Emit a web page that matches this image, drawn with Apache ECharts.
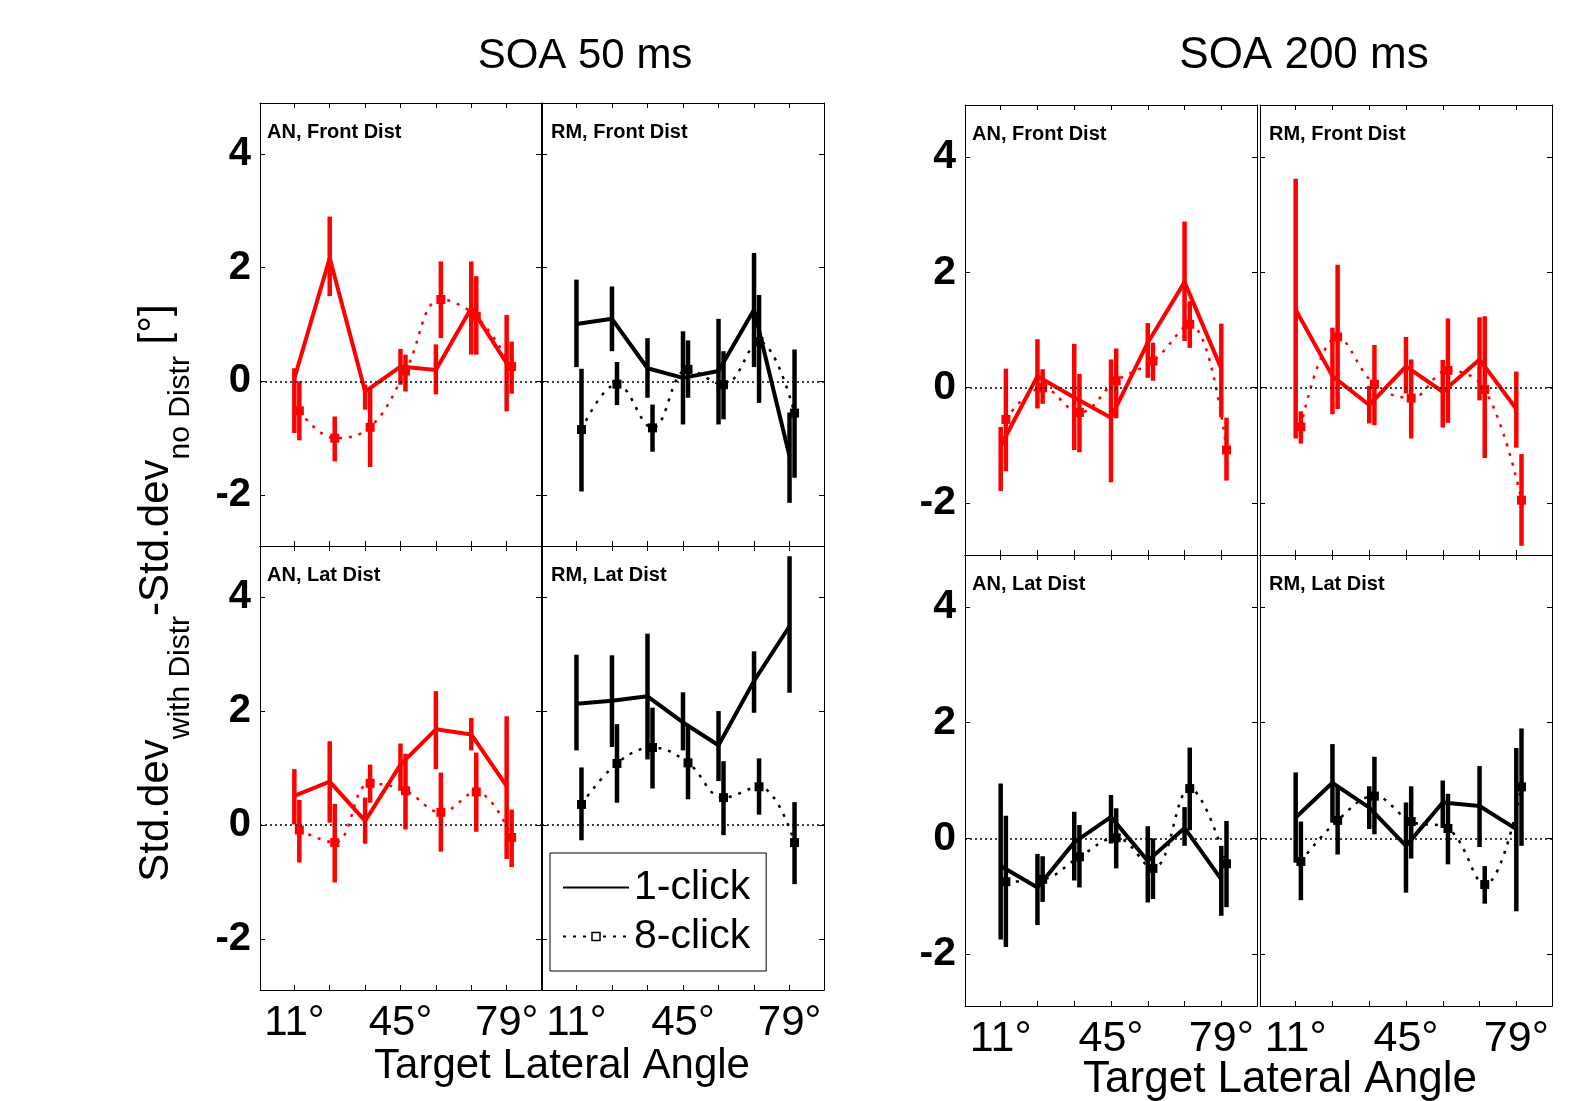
<!DOCTYPE html>
<html><head><meta charset="utf-8">
<script src="https://cdn.jsdelivr.net/npm/echarts@6/dist/echarts.min.js"></script>
<style>html,body{margin:0;padding:0;background:#fff}#c{width:1582px;height:1101px}</style>
</head><body><div id="c"></div>
<script>
// ---------- axis data ----------
const angles = [11, 22.33, 33.67, 45, 56.33, 67.67, 79];
const xTickLabels = [11, 45, 79];
const yTicks = [-2, 0, 2, 4];
const yMin = -2.9, yMax = 4.9;
const xMin = 0, xMax = 90;

// ---------- SOA 50 ms, AN, Front Dist ----------
const s50_AN_front_c1    = [0.05, 2.17, -0.18, 0.26, 0.20, 1.29, 0.32];
const s50_AN_front_c1_lo = [-0.91, 1.50, -0.50, -0.06, -0.23, 0.47, -0.53];
const s50_AN_front_c1_hi = [0.23, 2.90, -0.06, 0.57, 0.65, 2.11, 1.17];
const s50_AN_front_c8    = [-0.52, -1.00, -0.81, 0.18, 1.44, 1.14, 0.26];
const s50_AN_front_c8_lo = [-1.04, -1.41, -1.51, -0.18, 0.76, 0.47, -0.22];
const s50_AN_front_c8_hi = [0.00, -0.62, -0.12, 0.47, 2.11, 1.85, 0.70];
// ---------- SOA 50 ms, RM, Front Dist ----------
const s50_RM_front_c1    = [1.01, 1.10, 0.23, 0.06, 0.18, 1.26, -1.32];
const s50_RM_front_c1_lo = [0.25, 0.53, -0.29, -0.76, -0.76, 0.25, -2.14];
const s50_RM_front_c1_hi = [1.79, 1.67, 0.76, 0.88, 1.10, 2.26, -0.55];
const s50_RM_front_c8    = [-0.85, -0.05, -0.82, 0.21, -0.06, 0.70, -0.56];
const s50_RM_front_c8_lo = [-1.94, -0.42, -1.24, -0.29, -0.67, -0.38, -1.70];
const s50_RM_front_c8_hi = [0.22, 0.34, -0.41, 0.72, 0.53, 1.52, 0.56];
// ---------- SOA 50 ms, AN, Lat Dist ----------
const s50_AN_lat_c1    = [0.51, 0.76, 0.07, 1.06, 1.68, 1.59, 0.68];
const s50_AN_lat_c1_lo = [0.01, 0.04, -0.33, 0.60, 0.98, 1.31, -0.60];
const s50_AN_lat_c1_hi = [0.98, 1.47, 0.48, 1.43, 2.35, 1.88, 1.91];
const s50_AN_lat_c8    = [-0.09, -0.31, 0.73, 0.60, 0.22, 0.58, -0.22];
const s50_AN_lat_c8_lo = [-0.66, -1.01, 0.39, -0.08, -0.47, -0.12, -0.74];
const s50_AN_lat_c8_hi = [0.44, 0.37, 1.06, 1.25, 0.92, 1.27, 0.27];
// ---------- SOA 50 ms, RM, Lat Dist ----------
const s50_RM_lat_c1    = [2.13, 2.18, 2.26, 1.80, 1.40, 2.53, 3.49];
const s50_RM_lat_c1_lo = [1.31, 1.37, 1.15, 1.31, 0.77, 1.97, 2.32];
const s50_RM_lat_c1_hi = [2.99, 2.98, 3.36, 2.33, 2.00, 3.05, 4.72];
const s50_RM_lat_c8    = [0.36, 1.08, 1.36, 1.09, 0.48, 0.67, -0.31];
const s50_RM_lat_c8_lo = [-0.27, 0.39, 0.64, 0.45, -0.18, 0.18, -1.04];
const s50_RM_lat_c8_hi = [1.01, 1.77, 2.06, 1.74, 1.12, 1.17, 0.40];
// ---------- SOA 200 ms, AN, Front Dist ----------
const s200_AN_front_c1    = [-1.01, 0.20, -0.17, -0.52, 0.78, 1.83, 0.33];
const s200_AN_front_c1_lo = [-1.79, -0.36, -1.08, -1.64, 0.17, 0.81, -0.51];
const s200_AN_front_c1_hi = [-0.68, 0.84, 0.76, 0.49, 1.12, 2.88, 1.11];
const s200_AN_front_c8    = [-0.55, 0.00, -0.43, 0.12, 0.46, 1.10, -1.08];
const s200_AN_front_c8_lo = [-1.45, -0.28, -1.12, -0.53, 0.12, 0.69, -1.61];
const s200_AN_front_c8_hi = [0.33, 0.32, 0.24, 0.68, 0.78, 1.50, -0.52];
// ---------- SOA 200 ms, RM, Front Dist ----------
const s200_RM_front_c1    = [1.35, 0.20, -0.30, 0.37, -0.07, 0.49, -0.37];
const s200_RM_front_c1_lo = [-0.88, -0.46, -0.62, -0.10, -0.69, -0.22, -1.04];
const s200_RM_front_c1_hi = [3.62, 1.04, 0.03, 0.88, 0.48, 1.22, 0.28];
const s200_RM_front_c8    = [-0.68, 0.88, 0.06, -0.18, 0.30, -0.03, -1.95];
const s200_RM_front_c8_lo = [-0.97, -0.37, -0.65, -0.88, -0.61, -1.22, -2.74];
const s200_RM_front_c8_hi = [-0.41, 2.13, 0.74, 0.49, 1.20, 1.24, -1.15];
// ---------- SOA 200 ms, AN, Lat Dist ----------
const s200_AN_lat_c1    = [-0.48, -0.85, -0.07, 0.37, -0.39, 0.18, -0.71];
const s200_AN_lat_c1_lo = [-1.75, -1.50, -0.73, -0.09, -1.11, -0.13, -1.34];
const s200_AN_lat_c1_hi = [0.95, -0.27, 0.46, 0.75, 0.21, 0.54, -0.13];
const s200_AN_lat_c8    = [-0.75, -0.71, -0.32, 0.01, -0.52, 0.86, -0.44];
const s200_AN_lat_c8_lo = [-1.88, -1.10, -0.85, -0.52, -1.05, 0.14, -1.19];
const s200_AN_lat_c8_hi = [0.39, -0.31, 0.23, 0.52, 0.00, 1.57, 0.30];
// ---------- SOA 200 ms, RM, Lat Dist ----------
const s200_RM_lat_c1    = [0.36, 0.96, 0.53, -0.13, 0.62, 0.56, 0.16];
const s200_RM_lat_c1_lo = [-0.42, 0.27, 0.16, -0.94, 0.18, -0.15, -1.26];
const s200_RM_lat_c1_hi = [1.14, 1.63, 0.90, 0.62, 1.00, 1.25, 1.56];
const s200_RM_lat_c8    = [-0.40, 0.31, 0.73, 0.29, 0.17, -0.80, 0.89];
const s200_RM_lat_c8_lo = [-1.07, -0.28, 0.07, -0.35, -0.45, -1.13, -0.13];
const s200_RM_lat_c8_hi = [0.29, 0.90, 1.41, 0.90, 0.77, -0.48, 1.90];

const panelLabels = ['AN, Front Dist','RM, Front Dist','AN, Lat Dist','RM, Lat Dist',
                     'AN, Front Dist','RM, Front Dist','AN, Lat Dist','RM, Lat Dist'];
const panelData = [
  [s50_AN_front_c1, s50_AN_front_c1_lo, s50_AN_front_c1_hi, s50_AN_front_c8, s50_AN_front_c8_lo, s50_AN_front_c8_hi],
  [s50_RM_front_c1, s50_RM_front_c1_lo, s50_RM_front_c1_hi, s50_RM_front_c8, s50_RM_front_c8_lo, s50_RM_front_c8_hi],
  [s50_AN_lat_c1, s50_AN_lat_c1_lo, s50_AN_lat_c1_hi, s50_AN_lat_c8, s50_AN_lat_c8_lo, s50_AN_lat_c8_hi],
  [s50_RM_lat_c1, s50_RM_lat_c1_lo, s50_RM_lat_c1_hi, s50_RM_lat_c8, s50_RM_lat_c8_lo, s50_RM_lat_c8_hi],
  [s200_AN_front_c1, s200_AN_front_c1_lo, s200_AN_front_c1_hi, s200_AN_front_c8, s200_AN_front_c8_lo, s200_AN_front_c8_hi],
  [s200_RM_front_c1, s200_RM_front_c1_lo, s200_RM_front_c1_hi, s200_RM_front_c8, s200_RM_front_c8_lo, s200_RM_front_c8_hi],
  [s200_AN_lat_c1, s200_AN_lat_c1_lo, s200_AN_lat_c1_hi, s200_AN_lat_c8, s200_AN_lat_c8_lo, s200_AN_lat_c8_hi],
  [s200_RM_lat_c1, s200_RM_lat_c1_lo, s200_RM_lat_c1_hi, s200_RM_lat_c8, s200_RM_lat_c8_lo, s200_RM_lat_c8_hi]
];

// ---------- layout & styles ----------
const F = '"Liberation Sans", Arial, Helvetica, sans-serif';
const RED = '#ff0000', BLACK = '#000000';
const panelColors = [RED, BLACK, RED, BLACK, RED, RED, BLACK, BLACK];
const gridBoxes = [
  {left:260, top:103, width:281, height:443},
  {left:542, top:103, width:282, height:443},
  {left:260, top:546, width:281, height:444},
  {left:542, top:546, width:282, height:444},
  {left:965, top:105, width:292, height:450},
  {left:1260, top:105, width:292, height:450},
  {left:965, top:555, width:292, height:451},
  {left:1260, top:555, width:292, height:451}
];
const showY = [true,false,true,false,true,false,true,false];
const showX = [false,false,true,true,false,false,true,true];
const labelDx = [7,9,7,9,7,9,7,9];
const tickFont = [42,42,42,42,43,43,43,43];
const OFF8 = 1.6; // horizontal dodge of the 8-click series (degrees)

function errRender(params, api) {
  const x = api.value(0), lo = api.value(1), hi = api.value(2);
  const p1 = api.coord([x, lo]), p2 = api.coord([x, hi]);
  return {type:'line', shape:{x1:p1[0], y1:p1[1], x2:p2[0], y2:p2[1]},
          style:{stroke: api.visual('color'), lineWidth: 4.5, lineCap:'butt'}};
}

const grid = [], xAxis = [], yAxis = [], series = [], graphic = [];
gridBoxes.forEach((g, i) => {
  grid.push(Object.assign({outerBoundsMode:'none', containLabel:false, show:false}, g));
  const axLine = {show:true, onZero:false, lineStyle:{color:'#000', width:1}};
  const tickX = {show:true, inside:true, length:5, customValues: angles, lineStyle:{color:'#000', width:1}};
  const tickY = {show:true, inside:true, length:5, customValues: yTicks, lineStyle:{color:'#000', width:1}};
  xAxis.push({type:'value', gridIndex:i, position:'bottom', min:xMin, max:xMax,
    axisLine:axLine, axisTick:tickX, splitLine:{show:false},
    axisLabel:{show:showX[i], customValues:xTickLabels, formatter:v => v + '°',
      color:'#000', fontSize:tickFont[i], fontFamily:F, margin:12}});
  xAxis.push({type:'value', gridIndex:i, position:'top', min:xMin, max:xMax,
    axisLine:axLine, axisTick:tickX, splitLine:{show:false}, axisLabel:{show:false}});
  yAxis.push({type:'value', gridIndex:i, position:'left', min:yMin, max:yMax,
    axisLine:axLine, axisTick:tickY, splitLine:{show:false},
    axisLabel:{show:showY[i], customValues:yTicks, formatter:v => String(v),
      color:'#000', fontSize:tickFont[i] - 2, fontWeight:'bold', fontFamily:F, margin:9}});
  yAxis.push({type:'value', gridIndex:i, position:'right', min:yMin, max:yMax,
    axisLine:axLine, axisTick:tickY, splitLine:{show:false}, axisLabel:{show:false}});

  const col = panelColors[i];
  const [c1, c1lo, c1hi, c8, c8lo, c8hi] = panelData[i];
  series.push({name:'1-click err '+i, type:'custom', xAxisIndex:2*i, yAxisIndex:2*i,
    renderItem: errRender, encode:{x:0, y:[1,2]}, itemStyle:{color:col}, z:3,
    data: angles.map((a,k) => [a, c1lo[k], c1hi[k]])});
  series.push({name:'8-click err '+i, type:'custom', xAxisIndex:2*i, yAxisIndex:2*i,
    renderItem: errRender, encode:{x:0, y:[1,2]}, itemStyle:{color:col}, z:3,
    data: angles.map((a,k) => [a + OFF8, c8lo[k], c8hi[k]])});
  series.push({name:'1-click', type:'line', xAxisIndex:2*i, yAxisIndex:2*i,
    symbol:'none', lineStyle:{color:col, width:4}, itemStyle:{color:col}, z:4,
    data: angles.map((a,k) => [a, c1[k]]),
    markLine:{silent:true, symbol:['none','none'], label:{show:false}, animation:false,
      lineStyle:{color:'#000', type:[2,3], width:1.5}, emphasis:{disabled:true},
      data:[{yAxis:0}]}});
  series.push({name:'8-click', type:'line', xAxisIndex:2*i, yAxisIndex:2*i,
    smooth:0.4, symbol:'rect', symbolSize:9, showSymbol:true,
    lineStyle:{color:col, width:2.5, type:[3,7]}, itemStyle:{color:col}, z:4,
    data: angles.map((a,k) => [a + OFF8, c8[k]])});

  graphic.push({type:'text', z:100, x:g.left + labelDx[i], y:g.top + 29.5,
    style:{text:panelLabels[i], fontSize:20, fontWeight:'bold', fontFamily:F, fill:'#000',
      align:'left', verticalAlign:'middle', textAlign:'left', textVerticalAlign:'middle'}});
});

function bigText(t, x, y, fs) {
  return {type:'text', z:100, x:x, y:y,
    style:{text:t, fontSize:fs, fontFamily:F, fill:'#000',
      align:'center', verticalAlign:'middle', textAlign:'center', textVerticalAlign:'middle'}};
}
graphic.push(bigText('SOA 50 ms', 585, 56, 42));
graphic.push(bigText('SOA 200 ms', 1304, 56, 44));
graphic.push(bigText('Target Lateral Angle', 562, 1066, 42));
graphic.push(bigText('Target Lateral Angle', 1280, 1080, 44));
graphic.push({type:'text', z:100, x:156, y:593, rotation:Math.PI/2,
  style:{text:'{m|Std.dev}{s|with Distr}{m|-Std.dev}{s|no Distr}{m| [°]}',
    fill:'#000', align:'center', verticalAlign:'middle', textAlign:'center', textVerticalAlign:'middle',
    rich:{m:{fontSize:42, fontFamily:F, lineHeight:80, verticalAlign:'middle', fill:'#000'},
          s:{fontSize:30, fontFamily:F, lineHeight:30, verticalAlign:'bottom', fill:'#000'}}}});

const option = {
  animation:false,
  backgroundColor:'#fff',
  grid, xAxis, yAxis, series, graphic,
  legend:{
    orient:'vertical', left:550, top:853, padding:[10,16,10,12], itemGap:0,
    itemWidth:66, itemHeight:10, selectedMode:false,
    backgroundColor:'#fff', borderColor:'#000', borderWidth:1, borderRadius:0,
    textStyle:{fontSize:41, fontFamily:F, color:'#000', lineHeight:49},
    lineStyle:{color:'#000'}, itemStyle:{color:'#000'},
    data:[{name:'1-click', itemStyle:{opacity:0}},
          {name:'8-click', itemStyle:{color:'#fff', borderColor:'#000', borderWidth:1.5}}]
  }
};
const chart = echarts.init(document.getElementById('c'));
chart.setOption(option);
</script></body></html>
